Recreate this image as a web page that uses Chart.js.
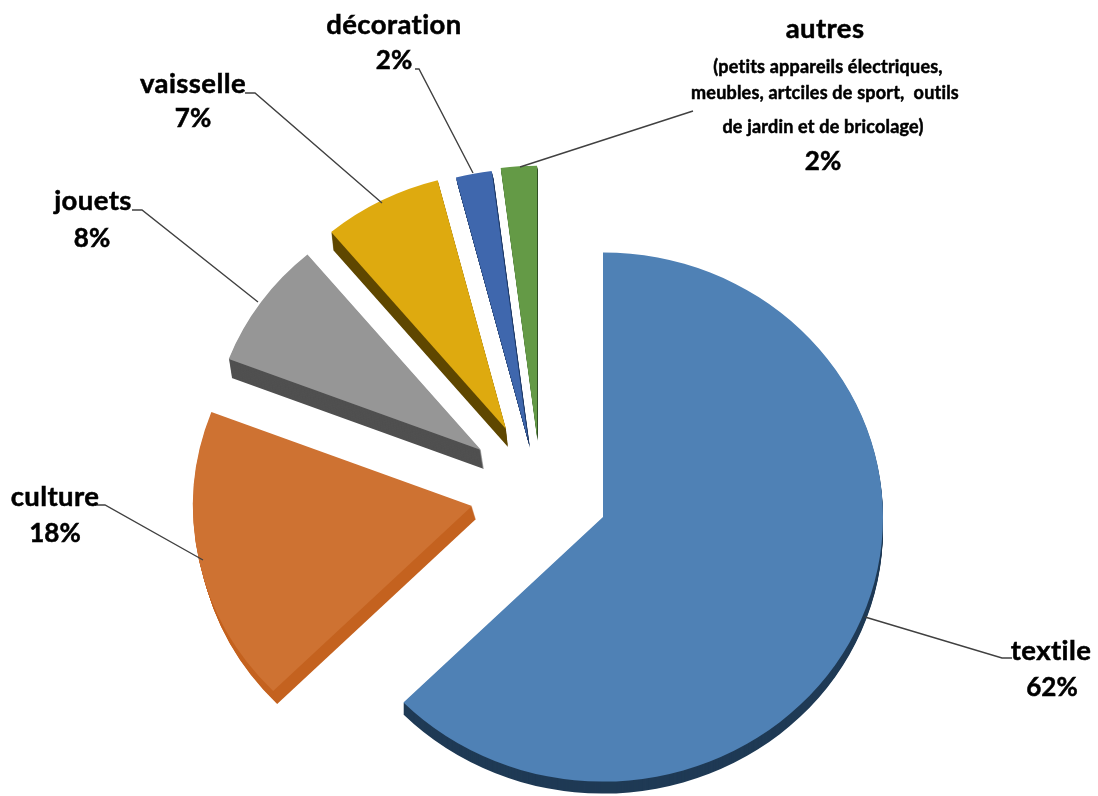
<!DOCTYPE html>
<html>
<head>
<meta charset="utf-8">
<style>
  body { margin: 0; background: #fff; }
  canvas { display: block; }
</style>
<script src="https://cdn.jsdelivr.net/npm/chart.js"></script>
</head>
<body>
<canvas id="pie" width="1098" height="796"></canvas>
<script>
// Values as printed on the picture (they add up to 99)
const categories = ["textile", "culture", "jouets", "vaisselle", "décoration", "autres"];
const percents = [62, 18, 8, 7, 2, 2];
const autresDetail = [
    "(petits appareils électriques,",
    "meubles, artciles de sport,  outils",
    "de jardin et de bricolage)"
];

const faceColors = ["#4F81B5", "#CE7232", "#969696", "#DEAA0F", "#3F67AD", "#649A46"];
const sideColors = ["#1F3A55", "#C4621F", "#505050", "#5F4700", "#1F3A66", "#335024"];

// Each slice was dragged by hand in the original, so not along its own middle
const sliceShift = [[0, 0], [-131, -11], [-122, -67], [-97, -88], [-75, -77], [-66, -80]];
const sliceRadius = [280, 279, 270, 272, 287, 287];
const sliceDepth = [[0, 12], [4, 13], [3, 19], [2, 18], [2, 8], [1, 4]];

const squash = 0.945; // the pie is tilted, so a bit flatter than a circle
const centerY = 517;
const fontName = "Lato";

// Where the texts go: [center x, baseline y]
const labelSpots = [
    { name: [1051, 660], pct: [1052, 696] },
    { name: [55, 506], pct: [55, 542] },
    { name: [93, 210], pct: [92, 247] },
    { name: [193, 93], pct: [193, 127] },
    { name: [394, 34], pct: [394, 69] },
    { name: [825, 38], pct: [823, 170] }
];
const autresSpots = [[828, 73], [825, 99], [823, 133]];

// Leader lines from the slices to their labels
const leaders = [
    [[865, 617], [1002, 658], [1012, 658]],
    [[203, 560], [105, 505], [95, 505]],
    [[258, 302], [142, 210], [132, 210]],
    [[382, 203], [255, 93], [245, 93]],
    [[473, 173], [419, 69], [415, 69]],
    [[520, 167], [693, 111]]
];

// Moves the slices apart, once the library has laid them out
const explodePlugin = {
    id: "explode",
    afterDatasetsUpdate(chart) {
        chart.getDatasetMeta(0).data.forEach((arc, i) => {
            arc.x += sliceShift[i][0];
            arc.y += sliceShift[i][1] / squash;
            arc.outerRadius = sliceRadius[i];
        });
    }
};

// Flattens the pie and draws the darker side under each slice
const tiltPlugin = {
    id: "tilt",
    beforeDatasetsDraw(chart) {
        const ctx = chart.ctx;
        ctx.save();
        ctx.translate(0, centerY);
        ctx.scale(1, squash);
        ctx.translate(0, -centerY);

        chart.getDatasetMeta(0).data.forEach((arc, i) => {
            const side = Object.create(arc);
            side.options = { ...arc.options, backgroundColor: sideColors[i] };
            const [dx, dy] = sliceDepth[i];
            for (let step = dy; step > 0; step--) {
                ctx.save();
                ctx.translate(dx * step / dy, step / squash);
                side.draw(ctx);
                ctx.restore();
            }
        });
    },
    afterDatasetsDraw(chart) {
        chart.ctx.restore();
    }
};

// Thin stroke on top of the fill, the original text is heavier than Lato Bold
function drawCentered(ctx, text, spot, size, spacing) {
    ctx.font = `bold ${size}px ${fontName}`;
    ctx.letterSpacing = spacing + "px";
    ctx.fillText(text, spot[0], spot[1]);
    ctx.strokeText(text, spot[0], spot[1]);
}

const labelsPlugin = {
    id: "pieLabels",
    afterDraw(chart) {
        const ctx = chart.ctx;
        ctx.save();

        ctx.strokeStyle = "#404040";
        ctx.lineWidth = 1.4;
        leaders.forEach((points) => {
            ctx.beginPath();
            points.forEach((p, i) => (i ? ctx.lineTo(p[0], p[1]) : ctx.moveTo(p[0], p[1])));
            ctx.stroke();
        });

        ctx.fillStyle = "#000";
        ctx.strokeStyle = "#000";
        ctx.lineWidth = 0.5;
        ctx.textAlign = "center";
        ctx.textBaseline = "alphabetic";
        categories.forEach((name, i) => {
            drawCentered(ctx, name, labelSpots[i].name, 27.5, 0.4);
            drawCentered(ctx, percents[i] + "%", labelSpots[i].pct, 26, 0);
        });
        autresDetail.forEach((line, i) => drawCentered(ctx, line, autresSpots[i], 18, 0.2));

        ctx.restore();
    }
};

new Chart(document.getElementById("pie"), {
    type: "pie",
    data: {
        labels: categories,
        datasets: [
            {
                data: percents,
                backgroundColor: faceColors,
                borderWidth: 0,
                radius: 280,
                clip: false,
            },
        ],
    },
    options: {
        responsive: false,
        animation: false,
        layout: { padding: { left: 323, right: 215, top: 238, bottom: 0 } },
        plugins: {
            legend: { display: false },
            tooltip: { enabled: false },
        },
    },
    plugins: [explodePlugin, tiltPlugin, labelsPlugin],
});
</script>
</body>
</html>
